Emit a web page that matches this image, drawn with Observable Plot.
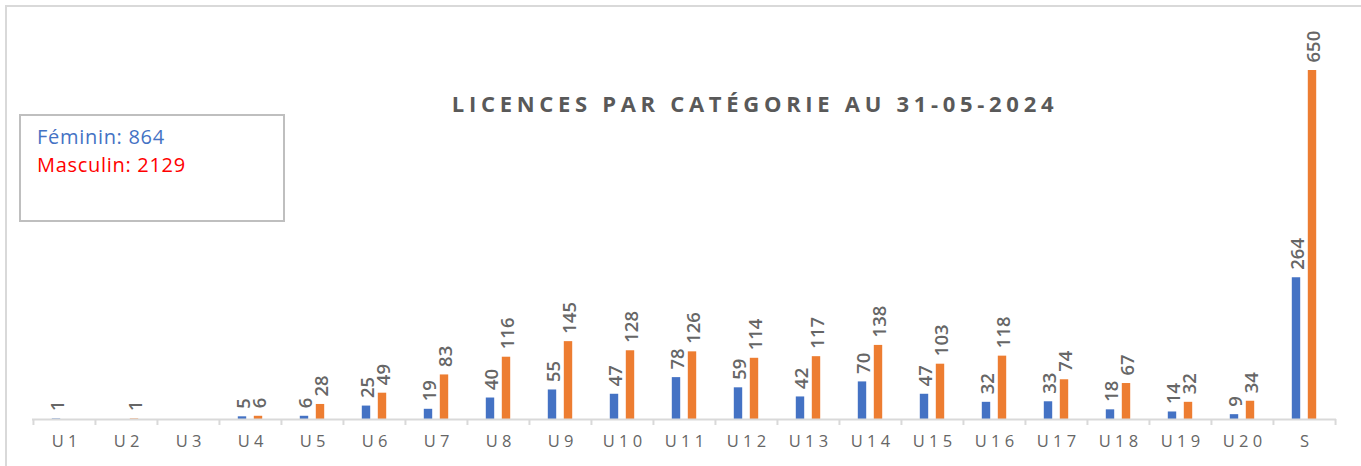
<!DOCTYPE html>
<html>
<head>
<meta charset="utf-8">
<script src="https://cdn.jsdelivr.net/npm/d3@7"></script>
<script src="https://cdn.jsdelivr.net/npm/@observablehq/plot@0.6"></script>
<style>
  html, body { margin: 0; padding: 0; background: #fff; }
  #wrap { position: relative; width: 1361px; height: 466px; overflow: hidden; font-family: "Open Sans", "Liberation Sans", sans-serif; }
  #frame { position: absolute; left: 5px; top: 5px; width: 1400px; height: 500px; border: 2px solid #D9D9D9; box-sizing: border-box; }
  #title { position: absolute; left: 0; width: 1510px; top: 88px; text-align: center; font-size: 22px; font-weight: bold; letter-spacing: 4.7px; color: #595959; font-family: "Open Sans", sans-serif; }
  #legend { position: absolute; left: 19px; top: 114px; width: 266px; height: 108px; border: 2px solid #BFBFBF; box-sizing: border-box; background: #fff; font-family: "Open Sans", sans-serif; font-size: 20px; letter-spacing: 0.7px; line-height: 28px; padding: 7px 0 0 16px; }
  #chart { position: absolute; left: 0; top: 0; }
</style>
</head>
<body>
<div id="wrap">
  <div id="frame"></div>
  <div id="chart"></div>
  <div id="title">LICENCES PAR CATÉGORIE AU 31-05-2024</div>
  <div id="legend">
    <div style="color:#4472C4">Féminin: 864</div>
    <div style="color:#FF0000">Masculin: 2129</div>
  </div>
</div>
<script>
const categories = ["U1","U2","U3","U4","U5","U6","U7","U8","U9","U10","U11","U12","U13","U14","U15","U16","U17","U18","U19","U20","S"];
const feminin  = [1, 0, 0, 5, 6, 25, 19, 40, 55, 47, 78, 59, 42, 70, 47, 32, 33, 18, 14, 9, 264];
const masculin = [0, 1, 0, 6, 28, 49, 83, 116, 145, 128, 126, 114, 117, 138, 103, 118, 74, 67, 32, 34, 650];
const tickLabels = categories.map(c => c.split("").join(" "));

const colF = "#4472C4", colM = "#ED7D31", grey = "#595959";

const fem = categories.map((c, i) => ({cat: c, v: feminin[i]}));
const mas = categories.map((c, i) => ({cat: c, v: masculin[i]}));

const W = 1361, H = 466;
const mL = 32, mR = 25, mT = 70, mB = 47;
const step = (W - mL - mR) / categories.length;
const half = step / 2;
const barW = 8.5;
const inset = (step - barW) / 2;
const off = 8;

const labelFont = {fontSize: 18.5, fontWeight: 600, fill: "#666666", fontFamily: "'Open Sans', sans-serif", rotate: -90, textAnchor: "start"};

const plot = Plot.plot({
  width: W, height: H,
  marginLeft: mL, marginRight: mR, marginTop: mT, marginBottom: mB,
  x: {domain: categories, padding: 0, axis: null},
  y: {domain: [0, d3.max(masculin)], axis: null},
  marks: [
    Plot.barY(fem.filter(d => d.v > 0), {x: "cat", y: "v", fill: colF, insetLeft: inset, insetRight: inset, dx: -off}),
    Plot.barY(mas.filter(d => d.v > 0), {x: "cat", y: "v", fill: colM, insetLeft: inset, insetRight: inset, dx: off}),
    Plot.ruleY([0], {stroke: "#D9D9D9", strokeWidth: 2}),
    Plot.ruleX(categories, {x: d => d, y1: 0, y2: 0, insetBottom: -6, dx: -half, stroke: "#D9D9D9", strokeWidth: 2}),
    Plot.ruleX(categories.slice(-1), {x: d => d, y1: 0, y2: 0, insetBottom: -6, dx: half, stroke: "#D9D9D9", strokeWidth: 2}),
    Plot.text(fem.filter(d => d.v > 0), {x: "cat", y: "v", text: d => String(d.v), dx: -off + 1.5, dy: -8, ...labelFont}),
    Plot.text(mas.filter(d => d.v > 0), {x: "cat", y: "v", text: d => String(d.v), dx: off + 1.5, dy: -8, ...labelFont}),
    Plot.text(categories, {x: d => d, y: 0, text: (d, i) => tickLabels[i], dy: 22, fontSize: 16.5, fill: "#666666", fontFamily: "'Open Sans', sans-serif", letterSpacing: 3.5})
  ]
});
document.getElementById("chart").appendChild(plot);
</script>
</body>
</html>
